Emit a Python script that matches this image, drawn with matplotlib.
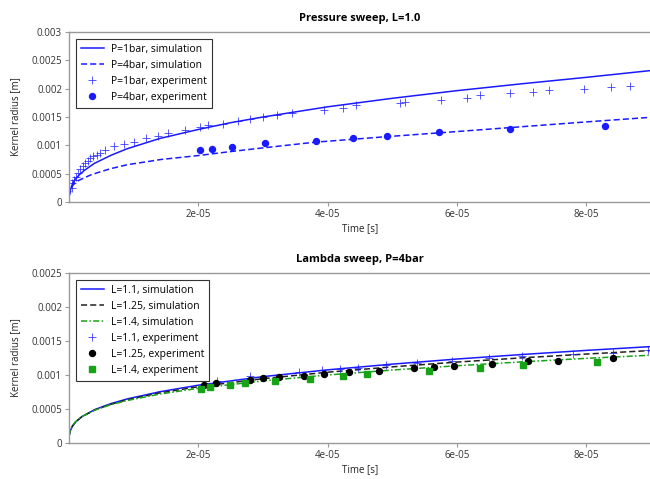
import matplotlib
matplotlib.use("Agg")
import matplotlib.pyplot as plt

plt.rcParams['font.family'] = ['Open Sans', 'DejaVu Sans']

# ---------------- Pressure sweep data ----------------
t_sim_p1 = [0, 2e-7, 4e-7, 6e-7, 9e-7, 1.6e-6, 2.4e-6, 3.9e-6, 6.5e-6, 9e-6, 1.4e-5,
            2e-5, 2.5e-5, 3e-5, 4e-5, 5e-5, 6e-5, 7e-5, 8e-5, 9e-5]
r_sim_p1 = [1.0e-4, 2.1e-4, 2.8e-4, 3.3e-4, 3.9e-4, 4.8e-4, 5.6e-4, 6.8e-4, 8.25e-4, 9.4e-4, 1.12e-3,
            1.28e-3, 1.40e-3, 1.50e-3, 1.68e-3, 1.83e-3, 1.965e-3, 2.086e-3, 2.20e-3, 2.32e-3]

t_sim_p4 = [0, 2.3e-7, 4.6e-7, 7.7e-7, 1.24e-6, 1.85e-6, 3.4e-6, 4.9e-6, 6.5e-6, 9.1e-6, 1.2e-5,
            1.42e-5, 2e-5, 2.5e-5, 3e-5, 3.8e-5, 4.9e-5, 5.9e-5, 6.9e-5, 7.9e-5, 9e-5]
r_sim_p4 = [1.0e-4, 1.8e-4, 2.7e-4, 3.2e-4, 3.65e-4, 4.0e-4, 4.8e-4, 5.35e-4, 5.9e-4, 6.6e-4, 7.1e-4,
            7.5e-4, 8.2e-4, 8.9e-4, 9.55e-4, 1.055e-3, 1.152e-3, 1.235e-3, 1.32e-3, 1.405e-3, 1.495e-3]

t_exp_p1 = [0, 3.9e-7, 5.4e-7, 7.7e-7, 1.03e-6, 1.34e-6, 1.70e-6, 2.12e-6, 2.47e-6, 2.89e-6,
            3.29e-6, 3.75e-6, 4.28e-6, 4.79e-6, 5.56e-6, 6.95e-6, 8.49e-6, 1.004e-5, 1.189e-5,
            1.375e-5, 1.529e-5, 1.792e-5, 2.023e-5, 2.147e-5, 2.378e-5, 2.610e-5, 2.795e-5,
            2.996e-5, 3.212e-5, 3.444e-5, 3.938e-5, 4.232e-5, 4.432e-5, 5.112e-5, 5.189e-5,
            5.745e-5, 6.162e-5, 6.363e-5, 6.826e-5, 7.181e-5, 7.429e-5, 7.969e-5, 8.386e-5, 8.680e-5]
r_exp_p1 = [0, 2.5e-4, 3.39e-4, 3.93e-4, 4.46e-4, 5.18e-4, 5.89e-4, 6.43e-4, 6.96e-4, 7.32e-4,
            7.68e-4, 8.04e-4, 8.21e-4, 8.57e-4, 9.11e-4, 9.82e-4, 1.018e-3, 1.054e-3, 1.125e-3,
            1.161e-3, 1.214e-3, 1.277e-3, 1.321e-3, 1.357e-3, 1.384e-3, 1.438e-3, 1.464e-3,
            1.500e-3, 1.536e-3, 1.571e-3, 1.616e-3, 1.661e-3, 1.705e-3, 1.750e-3, 1.768e-3,
            1.795e-3, 1.839e-3, 1.884e-3, 1.920e-3, 1.946e-3, 1.973e-3, 2.000e-3, 2.027e-3, 2.054e-3]

t_exp_p4 = [2.023e-5, 2.204e-5, 2.513e-5, 3.032e-5, 3.825e-5, 4.391e-5, 4.919e-5, 5.719e-5, 6.815e-5, 8.283e-5]
r_exp_p4 = [9.16e-4, 9.29e-4, 9.70e-4, 1.036e-3, 1.084e-3, 1.130e-3, 1.161e-3, 1.227e-3, 1.286e-3, 1.345e-3]

# ---------------- Lambda sweep data ----------------
t_sim_l = [0, 2e-7, 5e-7, 1e-6, 2e-6, 4e-6, 6.5e-6, 9e-6, 1.4e-5, 2e-5, 3e-5, 4e-5,
           5e-5, 6e-5, 7e-5, 8e-5, 9e-5]
r_sim_l11 = [1.0e-4, 1.78e-4, 2.42e-4, 3.07e-4, 3.88e-4, 4.92e-4, 5.80e-4, 6.48e-4, 7.53e-4, 8.50e-4,
             9.76e-4, 1.076e-3, 1.160e-3, 1.235e-3, 1.301e-3, 1.362e-3, 1.418e-3]
r_sim_l125 = [1.0e-4, 1.81e-4, 2.45e-4, 3.08e-4, 3.87e-4, 4.87e-4, 5.71e-4, 6.36e-4, 7.36e-4, 8.28e-4,
              9.46e-4, 1.041e-3, 1.120e-3, 1.190e-3, 1.252e-3, 1.308e-3, 1.360e-3]
r_sim_l14 = [1.0e-4, 1.88e-4, 2.52e-4, 3.13e-4, 3.89e-4, 4.84e-4, 5.64e-4, 6.25e-4, 7.19e-4, 8.04e-4,
             9.13e-4, 1.000e-3, 1.073e-3, 1.136e-3, 1.193e-3, 1.245e-3, 1.291e-3]

t_exp_l11 = [2.286e-5, 2.795e-5, 3.552e-5, 3.907e-5, 4.185e-5, 4.463e-5, 4.896e-5, 5.385e-5,
             5.915e-5, 6.502e-5, 7.011e-5, 7.799e-5, 8.417e-5, 8.957e-5]
r_exp_l11 = [9.12e-4, 9.85e-4, 1.049e-3, 1.074e-3, 1.084e-3, 1.103e-3, 1.140e-3, 1.172e-3,
             1.213e-3, 1.246e-3, 1.275e-3, 1.313e-3, 1.328e-3, 1.368e-3]

t_exp_l125 = [2.085e-5, 2.270e-5, 2.795e-5, 2.996e-5, 3.243e-5, 3.629e-5, 3.938e-5, 4.324e-5,
              4.788e-5, 5.328e-5, 5.637e-5, 5.961e-5, 6.548e-5, 7.097e-5, 7.567e-5, 8.417e-5]
r_exp_l125 = [8.46e-4, 8.87e-4, 9.26e-4, 9.49e-4, 9.75e-4, 9.88e-4, 1.010e-3, 1.044e-3,
              1.063e-3, 1.096e-3, 1.113e-3, 1.135e-3, 1.162e-3, 1.206e-3, 1.213e-3, 1.246e-3]

t_exp_l14 = [2.039e-5, 2.182e-5, 2.491e-5, 2.718e-5, 3.192e-5, 3.727e-5, 4.242e-5, 4.610e-5,
             5.564e-5, 6.351e-5, 7.019e-5, 8.165e-5]
r_exp_l14 = [8.01e-4, 8.28e-4, 8.60e-4, 8.78e-4, 9.19e-4, 9.41e-4, 9.85e-4, 1.019e-3,
             1.056e-3, 1.099e-3, 1.143e-3, 1.187e-3]

x_ticks = [2e-5, 4e-5, 6e-5, 8e-5]
x_ticklabels = ['2e-05', '4e-05', '6e-05', '8e-05']
y_ticks_top = [0, 0.0005, 0.001, 0.0015, 0.002, 0.0025, 0.003]
y_ticklabels_top = ['0', '0.0005', '0.001', '0.0015', '0.002', '0.0025', '0.003']
y_ticks_bot = [0, 0.0005, 0.001, 0.0015, 0.002, 0.0025]
y_ticklabels_bot = ['0', '0.0005', '0.001', '0.0015', '0.002', '0.0025']

BLUE = '#1a1aff'
GREEN = '#16a316'
SPINE = '#999999'

fig = plt.figure(figsize=(6.5, 4.79), dpi=100)
W, H = 650.0, 479.0
ax1 = fig.add_axes([69 / W, 1 - 202 / H, 582 / W, 170 / H])
ax2 = fig.add_axes([69 / W, 1 - 443 / H, 582 / W, 170 / H])


def style(ax, yt, ytl, ymax, title):
    ax.set_xlim(0, 9e-5)
    ax.set_ylim(0, ymax)
    ax.set_xticks(x_ticks)
    ax.set_xticklabels(x_ticklabels)
    ax.set_yticks(yt)
    ax.set_yticklabels(ytl)
    for s in ['top', 'bottom', 'left', 'right']:
        ax.spines[s].set_color(SPINE)
        ax.spines[s].set_linewidth(1.0)
    ax.tick_params(axis='both', direction='out', length=3, width=0.8, color=SPINE,
                   labelsize=7, labelcolor='#333333', pad=2)
    ax.set_xlabel('Time [s]', fontsize=7, color='#222222', labelpad=2)
    ax.set_ylabel('Kernel radius [m]', fontsize=7, color='#222222', labelpad=7)
    ax.set_title(title, fontsize=8, fontweight='bold', pad=8)


ax1.plot(t_sim_p1, r_sim_p1, '-', color=BLUE, lw=1.1, label='P=1bar, simulation')
ax1.plot(t_sim_p4, r_sim_p4, '--', color=BLUE, lw=1.1, dashes=(4, 2), label='P=4bar, simulation')
ax1.plot(t_exp_p1, r_exp_p1, '+', color=BLUE, ms=5.5, mew=0.6, ls='none', alpha=0.85, label='P=1bar, experiment')
ax1.plot(t_exp_p4, r_exp_p4, 'o', color=BLUE, ms=4.3, ls='none', label='P=4bar, experiment')
style(ax1, y_ticks_top, y_ticklabels_top, 0.003, 'Pressure sweep, L=1.0')

ax2.plot(t_sim_l, r_sim_l11, '-', color=BLUE, lw=1.1, label='L=1.1, simulation')
ax2.plot(t_sim_l, r_sim_l125, '--', color='#222222', lw=1.1, dashes=(4, 2), label='L=1.25, simulation')
ax2.plot(t_sim_l, r_sim_l14, '-.', color=GREEN, lw=1.1, dashes=(4, 1.5, 1, 1.5), label='L=1.4, simulation')
ax2.plot(t_exp_l11, r_exp_l11, '+', color=BLUE, ms=5.5, mew=0.6, ls='none', alpha=0.85, label='L=1.1, experiment')
ax2.plot(t_exp_l125, r_exp_l125, 'o', color='black', ms=4.3, ls='none', label='L=1.25, experiment')
ax2.plot(t_exp_l14, r_exp_l14, 's', color=GREEN, ms=4.3, ls='none', label='L=1.4, experiment')
style(ax2, y_ticks_bot, y_ticklabels_bot, 0.0025, 'Lambda sweep, P=4bar')

for ax in (ax1, ax2):
    leg = ax.legend(loc='upper left', fontsize=7.5, frameon=True, fancybox=False,
                    borderaxespad=0.7, handlelength=2.2, handletextpad=0.7,
                    labelspacing=0.48, borderpad=0.45)
    leg.get_frame().set_edgecolor('#333333')
    leg.get_frame().set_linewidth(0.8)
    leg.get_frame().set_alpha(1.0)

fig.savefig('out.png', dpi=100)
